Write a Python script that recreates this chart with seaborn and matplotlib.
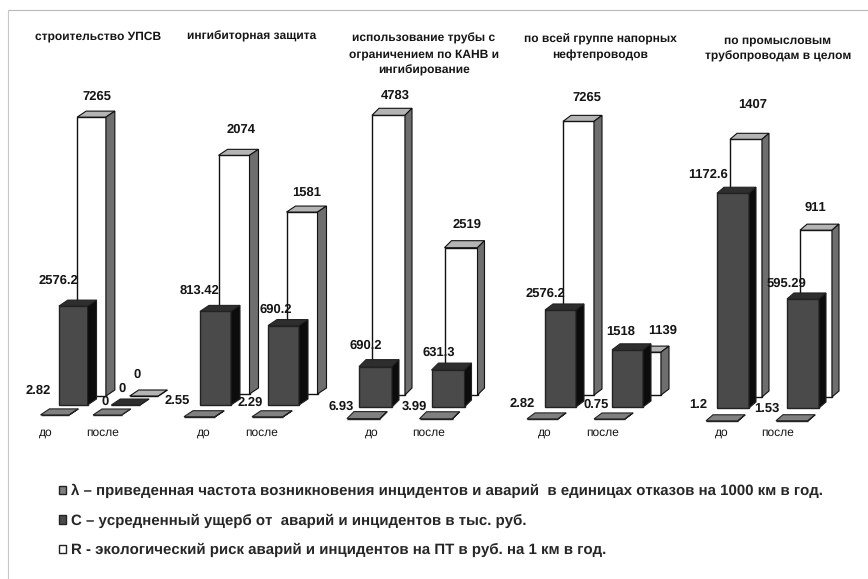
import pandas as pd
import seaborn as sns
import matplotlib.pyplot as plt
from matplotlib.lines import Line2D
from matplotlib.patches import Patch, Polygon

W, H = 868, 579

# values
TITLES = ['строительство УПСВ', 'ингибиторная защита',
          'использование трубы с\nограничением по КАНВ и\nингибирование',
          'по всей группе напорных\nнефтепроводов',
          'по промысловым\nтрубопроводам в целом']
PERIODS = ['до', 'после']
LAMBDA = [[2.82, 0], [2.55, 2.29], [6.93, 3.99], [2.82, 0.75], [1.2, 1.53]]
DAMAGE = [[2576.2, 0], [813.42, 690.2], [690.2, 631.3], [2576.2, 1518], [1172.6, 595.29]]
RISK = [[7265, 0], [2074, 1581], [4783, 2519], [7265, 1139], [1407, 911]]
LEGEND_LABELS = ['λ – приведенная частота возникновения инцидентов и аварий  в единицах отказов на 1000 км в год.',
                 'С – усредненный ущерб от  аварий и инцидентов в тыс. руб.',
                 'R - экологический риск аварий и инцидентов на ПТ в руб. на 1 км в год.']

# layout per panel, in pixels of the figure
# center of first dark bar, group spacing, bar width, baseline y, units per pixel
GEOMETRY = [(72.5, 53, 29, 405, 26.05), (215.5, 68, 31, 405, 8.69), (375.5, 72.5, 33, 407, 17.1),
            (560.5, 67, 31, 407, 26.55), (733, 70, 32, 408, 5.46)]
# depth shift of the back (R) and front (lambda) rows: dx, dy
BACK_SHIFT = [(18.5, 9), (18.5, 11), (13, 12), (18, 12), (13, 11)]
FRONT_SHIFT = [(18.5, 10), (16, 12), (12, 12), (18, 12), (11, 13)]
DEPTH = [(9, 6), (9, 6), (7, 7), (8, 6), (7, 6)]
TICK_X = [(45, 102), (204, 262), (372, 429), (545, 603), (722, 778)]
TITLE_XY = [(98, 36), (252, 36), (424, 54), (600, 47), (778, 48)]
# label centers: lambda, C, R for до and после
LABEL_XY = [
    [[(38, 391), (105, 402)], [(58, 281), (122, 389)], [(97, 97), (137, 375)]],
    [[(177, 401), (250, 403)], [(199, 290), (276, 310)], [(241, 130), (307, 193)]],
    [[(341, 406), (414, 406)], [(366, 346), (439, 352)], [(395, 95), (467, 225)]],
    [[(522, 404), (596, 405)], [(545, 294), (621, 332)], [(587, 98), (663, 331)]],
    [[(698, 405), (767, 409)], [(708, 175), (786, 284)], [(753, 105), (815, 208)]],
]

SERIES = ['R', 'C', 'lambda']
FRONT = {'R': '#ffffff', 'C': '#4a4a4a', 'lambda': '#808080'}
TOP = {'R': '#b4b4b4', 'C': '#2e2e2e', 'lambda': '#808080'}
SIDE = {'R': '#6e6e6e', 'C': '#0c0c0c', 'lambda': '#606060'}
EDGE = {'R': '#111111', 'C': '#222222', 'lambda': '#222222'}
LAYER = {'R': 2, 'C': 3, 'lambda': 4}

sns.set_theme(style='white')
plt.rcParams['font.family'] = ['Liberation Sans', 'DejaVu Sans']
plt.rcParams['text.hinting'] = 'no_hinting'
plt.rcParams['text.hinting_factor'] = 1
fig = plt.figure(figsize=(W / 100, H / 100), dpi=100, facecolor='white')


def px_text(x, y, text, **kwargs):
    fig.text(x / W, 1 - y / H, text, ha='center', va='center', color='#151515', **kwargs)


def draw_panel(i):
    c0, step, width, base, upp = GEOMETRY[i]
    ax = fig.add_axes([(c0 - step / 2) / W, 1 - base / H, 2 * step / W, (base - 4) / H])
    frame = pd.DataFrame({'period': PERIODS * 3,
                          'series': sum([[s] * 2 for s in SERIES], []),
                          'value': RISK[i] + DAMAGE[i] + LAMBDA[i]})
    sns.barplot(data=frame, x='period', y='value', hue='series', hue_order=SERIES,
                palette=FRONT, dodge=False, width=width / step, gap=0, legend=False, ax=ax)
    ax.set_xlim(-0.5, 1.5)
    ax.set_ylim(0, (base - 4) * upp)
    ax.patch.set_alpha(0)
    sns.despine(ax=ax, left=True, bottom=True)
    ax.set_xlabel('')
    ax.set_ylabel('')
    ax.set_yticks([])

    side, up = DEPTH[i]
    shifts = {'R': BACK_SHIFT[i], 'C': (0, 0), 'lambda': (-FRONT_SHIFT[i][0], -FRONT_SHIFT[i][1])}
    for name, container in zip(SERIES, ax.containers):
        dx, dy = shifts[name]
        for bar in container:
            x0 = bar.get_x() + dx / step
            y0 = dy * upp
            bar.set_x(x0)
            bar.set_y(y0)
            bar.set(edgecolor=EDGE[name], linewidth=1.0, zorder=LAYER[name], clip_on=False)
            x1 = x0 + bar.get_width()
            y1 = y0 + bar.get_height()
            sx, sy = side / step, up * upp
            faces = [([(x0, y1), (x1, y1), (x1 + sx, y1 + sy), (x0 + sx, y1 + sy)], TOP[name]),
                     ([(x1, y0), (x1 + sx, y0 + sy), (x1 + sx, y1 + sy), (x1, y1)], SIDE[name])]
            for points, color in faces:
                ax.add_patch(Polygon(points, closed=True, facecolor=color, edgecolor=EDGE[name],
                                     linewidth=0.8, zorder=LAYER[name], clip_on=False))

    ax.set_xticks([(TICK_X[i][0] - c0) / step, (TICK_X[i][1] - c0) / step], PERIODS)
    ax.tick_params(axis='x', length=0, pad=(433 - base - 6) / 1.389, labelsize=8.3, labelcolor='#151515')

    px_text(*TITLE_XY[i], TITLES[i], fontsize=8.5, fontweight='bold', linespacing=1.55)
    for row, values in enumerate([LAMBDA[i], DAMAGE[i], RISK[i]]):
        for j, value in enumerate(values):
            px_text(*LABEL_XY[i][row][j], f'{value:g}', fontsize=9.3, fontweight='bold')


for i in range(len(TITLES)):
    draw_panel(i)

# scan frame, only top and left survive
fig.add_artist(Line2D([8 / W, 1], [1 - 10 / H, 1 - 10 / H], color='#b8b8b8', lw=0.8))
fig.add_artist(Line2D([8 / W, 8 / W], [1 - 10 / H, 0], color='#c8c8c8', lw=0.8))

handles = [Patch(facecolor='#808080', edgecolor='#222222'),
           Patch(facecolor='#4a4a4a', edgecolor='#222222'),
           Patch(facecolor='#ffffff', edgecolor='#222222')]
fig.legend(handles, LEGEND_LABELS, loc='upper left', bbox_to_anchor=(46 / W, 1 - 471 / H), frameon=False,
           handlelength=0.5, handleheight=0.5, handletextpad=0.32, labelspacing=1.04,
           prop={'family': ['Liberation Sans Narrow', 'Liberation Sans'], 'weight': 'bold', 'size': 10.44})

fig.savefig('out.png', dpi=100, facecolor='white')
